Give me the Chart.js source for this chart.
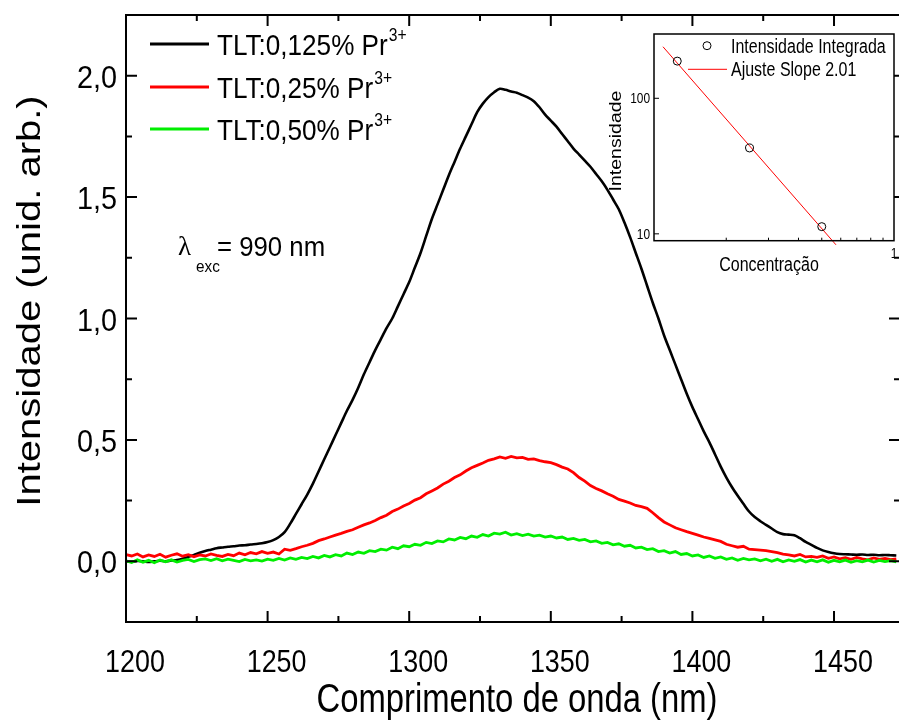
<!DOCTYPE html>
<html>
<head>
<meta charset="utf-8">
<script src="https://cdn.jsdelivr.net/npm/chart.js@4.4.1/dist/chart.umd.min.js"></script>
<style>
  html, body { margin: 0; padding: 0; background: #fff; }
  #wrap { position: relative; width: 899px; height: 724px; overflow: hidden; }
  #main { position: absolute; left: 0; top: 0; }
  #inset { position: absolute; left: 600px; top: 20px; }
</style>
</head>
<body>
<div id="wrap">
  <canvas id="main" width="902" height="724"></canvas>
  <canvas id="inset" width="299" height="265"></canvas>
</div>
<script>
// emission spectra, sampled every 2 nm from 1200 to 1472 nm
const wavelengths = [];
for (let nm = 1200; nm <= 1472; nm += 2) wavelengths.push(nm);

const pr0125 = [
  0.000, -0.002, 0.001, 0.000, -0.003, 0.000, 0.002, 0.000, 0.003, 0.005,
  0.010, 0.018, 0.026, 0.035, 0.042, 0.048, 0.054, 0.057, 0.060, 0.062,
  0.065, 0.066, 0.069, 0.071, 0.074, 0.079, 0.087, 0.100, 0.120, 0.155,
  0.195, 0.235, 0.275, 0.320, 0.370, 0.420, 0.470, 0.520, 0.570, 0.620,
  0.665, 0.715, 0.770, 0.820, 0.870, 0.915, 0.960, 1.000, 1.050, 1.100,
  1.150, 1.210, 1.270, 1.340, 1.410, 1.470, 1.530, 1.590, 1.645, 1.700,
  1.750, 1.800, 1.850, 1.885, 1.912, 1.932, 1.946, 1.942, 1.935, 1.930,
  1.920, 1.910, 1.895, 1.870, 1.840, 1.815, 1.790, 1.760, 1.730, 1.700,
  1.675, 1.650, 1.625, 1.595, 1.565, 1.530, 1.490, 1.450, 1.395, 1.335,
  1.270, 1.205, 1.135, 1.065, 1.000, 0.930, 0.870, 0.810, 0.750, 0.690,
  0.635, 0.585, 0.535, 0.490, 0.440, 0.390, 0.345, 0.305, 0.270, 0.237,
  0.205, 0.182, 0.165, 0.150, 0.135, 0.120, 0.112, 0.110, 0.107, 0.095,
  0.080, 0.068, 0.055, 0.045, 0.038, 0.033, 0.030, 0.029, 0.028, 0.027,
  0.028, 0.026, 0.027, 0.025, 0.026, 0.025, 0.024
];

const pr025 = [
  0.028, 0.022, 0.030, 0.018, 0.026, 0.020, 0.029, 0.017, 0.025, 0.031,
  0.021, 0.027, 0.019, 0.026, 0.022, 0.030, 0.024, 0.020, 0.028, 0.023,
  0.034, 0.027, 0.036, 0.031, 0.040, 0.033, 0.038, 0.030, 0.050, 0.045,
  0.052, 0.060, 0.066, 0.074, 0.085, 0.092, 0.100, 0.108, 0.115, 0.123,
  0.130, 0.140, 0.150, 0.158, 0.168, 0.180, 0.190, 0.205, 0.215, 0.228,
  0.238, 0.252, 0.262, 0.278, 0.290, 0.302, 0.318, 0.330, 0.345, 0.356,
  0.372, 0.385, 0.395, 0.405, 0.416, 0.422, 0.430, 0.424, 0.432, 0.426,
  0.428, 0.420, 0.422, 0.415, 0.410, 0.406, 0.398, 0.388, 0.380, 0.365,
  0.345, 0.330, 0.312, 0.300, 0.290, 0.278, 0.268, 0.255, 0.248, 0.240,
  0.230, 0.225, 0.218, 0.200, 0.180, 0.162, 0.150, 0.138, 0.130, 0.122,
  0.115, 0.108, 0.100, 0.094, 0.088, 0.082, 0.070, 0.064, 0.058, 0.062,
  0.050, 0.048, 0.046, 0.044, 0.040, 0.036, 0.030, 0.026, 0.022, 0.028,
  0.018, 0.020, 0.016, 0.022, 0.012, 0.018, 0.010, 0.015, 0.008, 0.016,
  0.010, 0.006, 0.014, 0.008, 0.012, 0.007, 0.010
];

const pr050 = [
  0.002, -0.005, 0.006, -0.004, 0.004, -0.006, 0.005, -0.002, 0.006, -0.003,
  0.004, 0.008, -0.001, 0.007, 0.010, 0.003, 0.011, 0.002, 0.009, 0.004,
  -0.001, 0.008, 0.002, 0.006, 0.001, 0.009, 0.004, 0.012, 0.005, 0.014,
  0.008, 0.016, 0.011, 0.020, 0.014, 0.024, 0.018, 0.027, 0.022, 0.034,
  0.028, 0.038, 0.033, 0.044, 0.040, 0.050, 0.046, 0.058, 0.052, 0.064,
  0.060, 0.070, 0.066, 0.078, 0.073, 0.084, 0.080, 0.092, 0.088, 0.098,
  0.093, 0.104, 0.099, 0.110, 0.104, 0.116, 0.112, 0.120, 0.108, 0.114,
  0.106, 0.112, 0.104, 0.108, 0.100, 0.104, 0.096, 0.100, 0.090, 0.094,
  0.086, 0.090, 0.080, 0.084, 0.074, 0.078, 0.068, 0.072, 0.062, 0.066,
  0.055, 0.058, 0.048, 0.052, 0.040, 0.044, 0.034, 0.040, 0.028, 0.032,
  0.022, 0.026, 0.016, 0.022, 0.012, 0.018, 0.008, 0.014, 0.004, 0.012,
  0.006, 0.010, 0.002, 0.009, 0.000, 0.008, -0.002, 0.006, 0.000, 0.007,
  -0.003, 0.005, -0.002, 0.006, -0.004, 0.004, -0.002, 0.005, -0.004, 0.003,
  -0.002, 0.005, -0.003, 0.004, -0.001, 0.003, -0.002
];

const seriesNames = ['TLT:0,125% Pr', 'TLT:0,25% Pr', 'TLT:0,50% Pr'];
const seriesColors = ['#000000', '#ff0000', '#00ee00'];

const xMajor = [1200, 1250, 1300, 1350, 1400, 1450];
const xMinor = [1225, 1275, 1325, 1375, 1425];
const yMajor = [0, 0.5, 1.0, 1.5, 2.0];
const yMinor = [0.25, 0.75, 1.25, 1.75];

// inset: integrated intensity vs concentration (log-log)
const concentration = [0.125, 0.25, 0.5];
const integrated = [188, 43, 11.3];
const fitConc = [0.109, 0.573];
const fitValue = [240, 8.3];
const insetYTicks = [10, 100];
const insetXTicks = [1];
const insetXMinor = [0.2, 0.3, 0.4, 0.5, 0.6, 0.7, 0.8, 0.9];

const SANS = '"Liberation Sans", Arial, sans-serif';

// draws horizontally condensed text
function squeezed(ctx, str, x, y, size, align, sx) {
  sx = sx || 0.82;
  ctx.save();
  ctx.font = size + 'px ' + SANS;
  ctx.textAlign = align || 'left';
  ctx.textBaseline = 'alphabetic';
  ctx.translate(x, y);
  ctx.scale(sx, 1);
  ctx.fillText(str, 0, 0);
  const w = ctx.measureText(str).width * sx;
  ctx.restore();
  return w;
}

function rotatedTitle(ctx, str, x, y, size) {
  ctx.save();
  ctx.font = size + 'px ' + SANS;
  ctx.textAlign = 'center';
  ctx.textBaseline = 'middle';
  ctx.translate(x, y);
  ctx.rotate(-Math.PI / 2);
  ctx.scale(1, 0.82);
  ctx.fillText(str, 0, 0);
  ctx.restore();
}

const frame = {
  id: 'frame',
  afterDraw(chart) {
    const { ctx, chartArea: a, scales: { x, y } } = chart;
    ctx.save();
    ctx.strokeStyle = '#000';
    ctx.lineWidth = 2;
    ctx.strokeRect(a.left, a.top, a.right - a.left, a.bottom - a.top);
    ctx.beginPath();
    const xt = (v, len) => {
      const px = x.getPixelForValue(v);
      ctx.moveTo(px, a.bottom); ctx.lineTo(px, a.bottom - len);
      ctx.moveTo(px, a.top); ctx.lineTo(px, a.top + len);
    };
    const yt = (v, len) => {
      const py = y.getPixelForValue(v);
      ctx.moveTo(a.left, py); ctx.lineTo(a.left + len, py);
      ctx.moveTo(a.right, py); ctx.lineTo(a.right - len, py);
    };
    xMajor.forEach(v => xt(v, 11));
    xMinor.forEach(v => xt(v, 6));
    yMajor.forEach(v => yt(v, 11));
    yMinor.forEach(v => yt(v, 6));
    ctx.stroke();

    ctx.fillStyle = '#000';
    // tick labels
    xMajor.forEach(v => squeezed(ctx, String(v), x.getPixelForValue(v) + 9, 672, 32, 'center', 0.84));
    yMajor.forEach(v => squeezed(ctx, v.toFixed(1).replace('.', ','), 117, y.getPixelForValue(v) + 12, 32, 'right', 0.9));

    // legend with superscript charge
    const rows = [44, 87, 129];
    seriesNames.forEach((name, i) => {
      ctx.strokeStyle = seriesColors[i];
      ctx.lineWidth = 3;
      ctx.beginPath();
      ctx.moveTo(150, rows[i]); ctx.lineTo(209, rows[i]);
      ctx.stroke();
      const w = squeezed(ctx, name, 217, rows[i] + 11, 30, 'left', 0.87);
      squeezed(ctx, '3+', 217 + w + 1, rows[i] - 3, 18, 'left', 0.87);
    });

    // excitation wavelength
    ctx.save();
    ctx.font = '27px "Liberation Serif", serif';
    ctx.textBaseline = 'alphabetic';
    ctx.fillText('\u03bb', 178, 255);
    ctx.restore();
    squeezed(ctx, 'exc', 196, 272, 17, 'left', 0.9);
    squeezed(ctx, '= 990 nm', 217, 256, 28, 'left', 0.92);

    // axis titles
    rotatedTitle(ctx, 'Intensidade (unid. arb.)', 31, 301, 40);
    squeezed(ctx, 'Comprimento de onda (nm)', 517, 712, 40, 'center');
    ctx.restore();
  }
};

const spectra = [pr0125, pr025, pr050];

new Chart(document.getElementById('main'), {
  type: 'line',
  data: {
    datasets: spectra.map((vals, i) => ({
      label: seriesNames[i] + '3+',
      data: wavelengths.map((nm, k) => ({ x: nm, y: vals[k] })),
      borderColor: seriesColors[i],
      borderWidth: i === 0 ? 2.6 : 2.8,
      pointRadius: 0,
      tension: i === 0 ? 0.3 : 0,
      order: 3 - i
    }))
  },
  options: {
    responsive: false,
    animation: false,
    layout: { padding: { top: 15, right: 2, left: 0, bottom: 0 } },
    plugins: { legend: { display: false }, tooltip: { enabled: false } },
    scales: {
      x: {
        type: 'linear',
        min: 1200,
        max: 1473.3,
        grid: { display: false, drawTicks: false },
        border: { display: false },
        ticks: { display: false },
        afterFit: s => { s.height = 102; }
      },
      y: {
        min: -0.25,
        max: 2.25,
        grid: { display: false, drawTicks: false },
        border: { display: false },
        ticks: { display: false },
        afterFit: s => { s.width = 126; }
      }
    }
  },
  plugins: [frame]
});

const insetBox = {
  id: 'insetBox',
  beforeDraw(chart) {
    const { ctx, chartArea: a } = chart;
    ctx.save();
    ctx.fillStyle = '#fff';
    ctx.fillRect(a.left, a.top, a.right - a.left, a.bottom - a.top);
    ctx.restore();
  },
  afterDraw(chart) {
    const { ctx, chartArea: a, scales: { x, y } } = chart;
    ctx.save();
    ctx.strokeStyle = '#000';
    ctx.lineWidth = 1.5;
    ctx.strokeRect(a.left, a.top, a.right - a.left, a.bottom - a.top);
    ctx.lineWidth = 1;
    ctx.beginPath();
    insetXMinor.forEach(v => {
      const px = x.getPixelForValue(v);
      ctx.moveTo(px, a.bottom); ctx.lineTo(px, a.bottom - 3);
    });
    insetYTicks.forEach(v => {
      const py = y.getPixelForValue(v);
      ctx.moveTo(a.left, py); ctx.lineTo(a.left + 5, py);
    });
    ctx.stroke();

    ctx.fillStyle = '#000';
    insetYTicks.forEach(v => squeezed(ctx, String(v), a.left - 4, y.getPixelForValue(v) + 5, 14, 'right', 0.85));
    insetXTicks.forEach(v => squeezed(ctx, String(v), x.getPixelForValue(v), a.bottom + 17, 14, 'center', 0.85));

    // legend
    ctx.beginPath();
    ctx.arc(107, 25.7, 4, 0, Math.PI * 2);
    ctx.stroke();
    squeezed(ctx, 'Intensidade Integrada', 131, 32.5, 19.5, 'left');
    ctx.strokeStyle = '#ff0000';
    ctx.beginPath();
    ctx.moveTo(88, 49.3); ctx.lineTo(127, 49.3);
    ctx.stroke();
    squeezed(ctx, 'Ajuste Slope 2.01', 131, 55.5, 19.5, 'left');

    rotatedTitle(ctx, 'Intensidade', 17, 121, 19.5);
    squeezed(ctx, 'Concentra\u00e7\u00e3o', 169, 251, 19.5, 'center');
    ctx.restore();
  }
};

new Chart(document.getElementById('inset'), {
  type: 'scatter',
  data: {
    datasets: [
      {
        label: 'Intensidade Integrada',
        data: concentration.map((c, i) => ({ x: c, y: integrated[i] })),
        pointStyle: 'circle',
        pointRadius: 4,
        borderColor: '#000',
        backgroundColor: 'rgba(0,0,0,0)',
        borderWidth: 1,
        order: 0
      },
      {
        label: 'Ajuste Slope 2.01',
        data: fitConc.map((c, i) => ({ x: c, y: fitValue[i] })),
        showLine: true,
        borderColor: '#ff0000',
        borderWidth: 1,
        pointRadius: 0,
        clip: 6,
        order: 1
      }
    ]
  },
  options: {
    responsive: false,
    animation: false,
    layout: { padding: { top: 14, right: 5, left: 0, bottom: 0 } },
    plugins: { legend: { display: false }, tooltip: { enabled: false } },
    scales: {
      x: {
        type: 'logarithmic',
        min: 0.1,
        max: 1,
        grid: { display: false, drawTicks: false },
        border: { display: false },
        ticks: { display: false },
        afterFit: s => { s.height = 44.3; }
      },
      y: {
        type: 'logarithmic',
        min: 8.9,
        max: 298,
        grid: { display: false, drawTicks: false },
        border: { display: false },
        ticks: { display: false },
        afterFit: s => { s.width = 54; }
      }
    }
  },
  plugins: [insetBox]
});
</script>
</body>
</html>
